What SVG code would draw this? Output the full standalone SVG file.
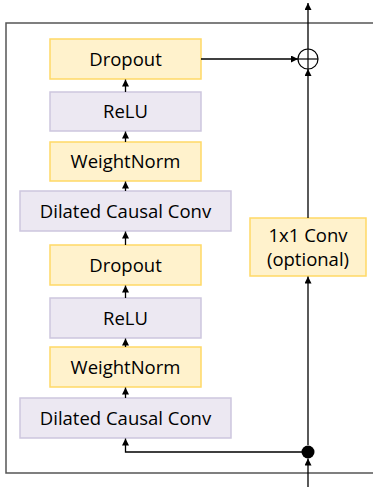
<svg xmlns="http://www.w3.org/2000/svg" width="373" height="487" viewBox="0 0 373 487">
<defs>
<marker id="ah" viewBox="0 0 10 10" refX="10" refY="5" markerWidth="7" markerHeight="7" orient="auto" markerUnits="userSpaceOnUse">
<path d="M0,0 L10,5 L0,10 z" fill="#000"/>
</marker>
<style>
.y{fill:#FFF2CC;stroke:#FFD966;stroke-width:1.5}
.p{fill:#ECE8F2;stroke:#CDC6DE;stroke-width:1.5}
.t{font-family:"Open Sans","Noto Sans",sans-serif;font-size:18.5px;fill:#000;text-anchor:middle}
.c{fill:none;stroke:#000;stroke-width:1.3}
</style>
</defs>
<rect x="6" y="23" width="380" height="450" fill="#fff" stroke="#555" stroke-width="1.5"/>
<g id="n1"><rect class="y" x="50" y="39" width="151" height="40"/><text class="t" x="125.5" y="65.5">Dropout</text></g>
<g id="n2"><rect class="p" x="50" y="92" width="151" height="39"/><text class="t" x="125.5" y="118">ReLU</text></g>
<g id="n3"><rect class="y" x="50" y="142" width="151" height="39"/><text class="t" x="125.5" y="168">WeightNorm</text></g>
<g id="n4"><rect class="p" x="20" y="191" width="211" height="40"/><text class="t" x="125.5" y="217.5">Dilated Causal Conv</text></g>
<g id="n5"><rect class="y" x="50" y="245" width="151" height="40"/><text class="t" x="125.5" y="271.5">Dropout</text></g>
<g id="n6"><rect class="p" x="50" y="298" width="151" height="40"/><text class="t" x="125.5" y="324.5">ReLU</text></g>
<g id="n7"><rect class="y" x="50" y="347" width="151" height="40"/><text class="t" x="125.5" y="373.5">WeightNorm</text></g>
<g id="n8"><rect class="p" x="20" y="398" width="211" height="40"/><text class="t" x="125.5" y="424.5">Dilated Causal Conv</text></g>
<g id="n9"><rect class="y" x="250" y="218" width="116" height="58"/><text class="t" x="308" y="242">1x1 Conv</text><text class="t" x="308" y="265.5">(optional)</text></g>
<g id="sum"><circle cx="308" cy="59" r="10" fill="none" stroke="#000" stroke-width="1.2"/><line x1="298" y1="59" x2="318" y2="59" stroke="#000" stroke-width="1.2"/><line x1="308" y1="49" x2="308" y2="69" stroke="#000" stroke-width="1.2"/></g>
<g id="dot"><circle cx="308" cy="452" r="6.5" fill="#000"/></g>
<g id="connectors">
<line class="c" x1="125.5" y1="92" x2="125.5" y2="79.5" marker-end="url(#ah)"/>
<line class="c" x1="125.5" y1="142" x2="125.5" y2="131.5" marker-end="url(#ah)"/>
<line class="c" x1="125.5" y1="191" x2="125.5" y2="181.5" marker-end="url(#ah)"/>
<line class="c" x1="125.5" y1="245" x2="125.5" y2="231.5" marker-end="url(#ah)"/>
<line class="c" x1="125.5" y1="298" x2="125.5" y2="285.5" marker-end="url(#ah)"/>
<line class="c" x1="125.5" y1="347" x2="125.5" y2="338.5" marker-end="url(#ah)"/>
<line class="c" x1="125.5" y1="398" x2="125.5" y2="387.5" marker-end="url(#ah)"/>
<polyline class="c" points="308,452 125.5,452 125.5,438.5" marker-end="url(#ah)"/>
<line class="c" x1="201" y1="59" x2="298" y2="59" marker-end="url(#ah)"/>
<line class="c" x1="308" y1="218" x2="308" y2="69" marker-end="url(#ah)"/>
<line class="c" x1="308" y1="445" x2="308" y2="276.5" marker-end="url(#ah)"/>
<line class="c" x1="308" y1="487" x2="308" y2="458.5" marker-end="url(#ah)"/>
<line class="c" x1="308" y1="49" x2="308" y2="3" marker-end="url(#ah)"/>
</g>
</svg>
